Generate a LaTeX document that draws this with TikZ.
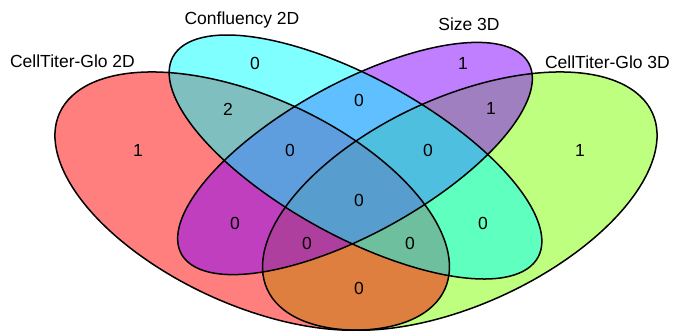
\documentclass[tikz,border=0pt]{standalone}
\usepackage{fontspec}
\newfontfamily\vennfont{Liberation Sans}

\definecolor{setred}{RGB}{255,0,0}
\definecolor{setcyan}{RGB}{0,255,255}
\definecolor{setpurple}{RGB}{128,0,255}
\definecolor{setgreen}{RGB}{128,255,0}

\tikzset{
  setshape/.style={xscale=6.92,yscale=4.53},
  setname/.style={font=\vennfont\fontsize{17.5}{20}\selectfont,inner sep=0pt,anchor=base},
  count/.style={font=\vennfont\fontsize{17.5}{20}\selectfont,inner sep=0pt}
}

\begin{document}
\begin{tikzpicture}[x=1pt,y=-1pt]
  \useasboundingbox (0,0) rectangle (673,333);

  % Mengen (Füllung)
  \foreach \cx/\cy/\rot/\ra/\rb/\col in {459.8/201.1/45/35/20/setgreen,
      252.2/201.1/-45/35/20/setred, 355/158.5/45/33.3/14.3/setpurple,
      355.5/157/-45/35/15/setcyan}
    \fill[\col,fill opacity=0.5,shift={(\cx,\cy)},setshape,rotate=\rot]
      (0,0) ellipse [x radius=\ra pt,y radius=\rb pt];

  % Mengen (Rand)
  \foreach \cx/\cy/\rot/\ra/\rb in {459.8/201.1/45/35/20, 252.2/201.1/-45/35/20,
      355/158.5/45/33.3/14.3, 355.5/157/-45/35/15}
    \draw[black,line width=1.5pt,shift={(\cx,\cy)},setshape,rotate=\rot]
      (0,0) ellipse [x radius=\ra pt,y radius=\rb pt];

  % Namen der Mengen
  \node[setname] (nameA) at (72.5,67.5) {CellTiter-Glo 2D};
  \node[setname] (nameB) at (242,24.5) {Confluency 2D};
  \node[setname] (nameC) at (469,30) {Size 3D};
  \node[setname] (nameD) at (607.5,68) {CellTiter-Glo 3D};

  % Anzahlen
  \foreach \name/\x/\y/\val in {a/138/150/1, b/255/63/0, c/463/63/1, d/580/150/1,
      ab/228/109/2, bc/359/100/0, cd/491/108/1, ac/235/223/0, bd/483/223/0,
      ad/359/288/0, abc/290/150/0, bcd/428/150/0, acd/307/243/0, abd/410/243/0,
      abcd/359/200/0}
    \node[count] (n\name) at (\x,\y) {\val};
\end{tikzpicture}
\end{document}
